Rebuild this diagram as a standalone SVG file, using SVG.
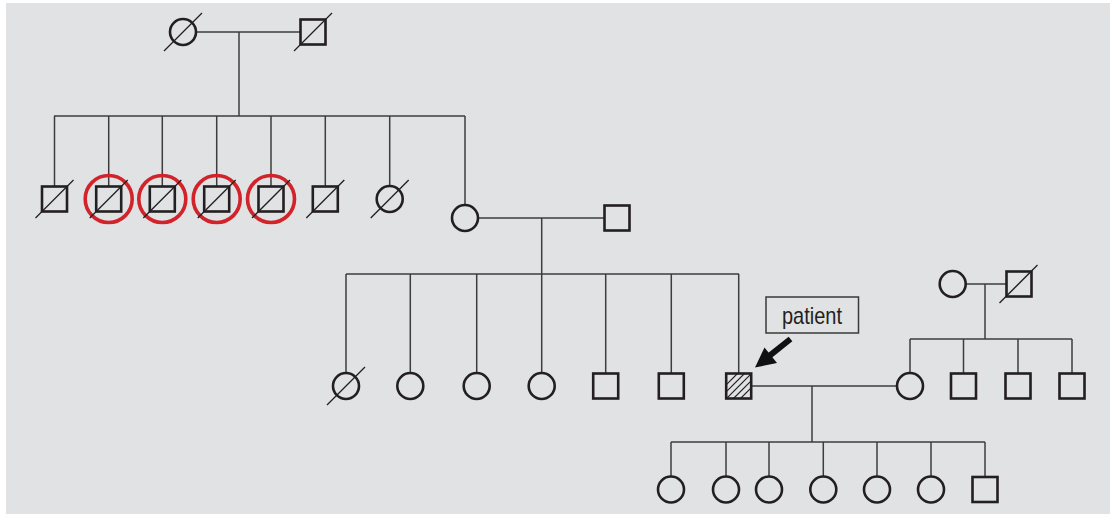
<svg xmlns="http://www.w3.org/2000/svg" width="1110" height="515" viewBox="0 0 1110 515">
<style>
.bg{fill:#e1e2e4}
.sq,.ci{fill:none;stroke:#231f20;stroke-width:2.6}
.dec{stroke:#231f20;stroke-width:1.3}
.ring{fill:none;stroke:#d2232a;stroke-width:3.6}
.ln{fill:none;stroke:#3c3c3c;stroke-width:1.5}
.hatch{stroke:#231f20;stroke-width:1.2}
.lbl{fill:none;stroke:#3a3a3a;stroke-width:1.5}
.txt{font-family:"Liberation Sans",Arial,sans-serif;font-size:24px;fill:#231f20}
</style>
<defs>
<clipPath id="pclip"><rect x="726" y="373.5" width="25.5" height="25.5"/></clipPath>
</defs>
<rect class="bg" x="6" y="3" width="1104" height="511"/>

<g id="connectors">
<!-- generation I -->
<line class="ln" x1="196" y1="32" x2="300.5" y2="32"/>
<line class="ln" x1="239" y1="32" x2="239" y2="116"/>
<line class="ln" x1="54" y1="116" x2="465" y2="116"/>
<line class="ln" x1="54.5" y1="116" x2="54.5" y2="186.5"/>
<line class="ln" x1="108.7" y1="116" x2="108.7" y2="186.5"/>
<line class="ln" x1="162.3" y1="116" x2="162.3" y2="186.5"/>
<line class="ln" x1="216.7" y1="116" x2="216.7" y2="186.5"/>
<line class="ln" x1="271" y1="116" x2="271" y2="186.5"/>
<line class="ln" x1="325.3" y1="116" x2="325.3" y2="186.5"/>
<line class="ln" x1="389.7" y1="116" x2="389.7" y2="186"/>
<line class="ln" x1="465" y1="116" x2="465" y2="205"/>
<!-- generation II couple -->
<line class="ln" x1="478" y1="218" x2="604.5" y2="218"/>
<line class="ln" x1="541.7" y1="218" x2="541.7" y2="274"/>
<line class="ln" x1="346" y1="274" x2="739" y2="274"/>
<line class="ln" x1="346" y1="274" x2="346" y2="373"/>
<line class="ln" x1="410.3" y1="274" x2="410.3" y2="373"/>
<line class="ln" x1="476.7" y1="274" x2="476.7" y2="373"/>
<line class="ln" x1="541.7" y1="274" x2="541.7" y2="373"/>
<line class="ln" x1="605.7" y1="274" x2="605.7" y2="373"/>
<line class="ln" x1="671.3" y1="274" x2="671.3" y2="373"/>
<line class="ln" x1="738.7" y1="274" x2="738.7" y2="373"/>
<!-- patient couple -->
<line class="ln" x1="751.5" y1="386" x2="897" y2="386"/>
<line class="ln" x1="812" y1="386" x2="812" y2="442"/>
<line class="ln" x1="671" y1="442" x2="985" y2="442"/>
<line class="ln" x1="671" y1="442" x2="671" y2="476.5"/>
<line class="ln" x1="726" y1="442" x2="726" y2="476.5"/>
<line class="ln" x1="769" y1="442" x2="769" y2="476.5"/>
<line class="ln" x1="823.3" y1="442" x2="823.3" y2="476.5"/>
<line class="ln" x1="877" y1="442" x2="877" y2="476.5"/>
<line class="ln" x1="931" y1="442" x2="931" y2="476.5"/>
<line class="ln" x1="985" y1="442" x2="985" y2="476.5"/>
<!-- spouse's parents -->
<line class="ln" x1="966" y1="284" x2="1006.5" y2="284"/>
<line class="ln" x1="985" y1="284" x2="985" y2="339"/>
<line class="ln" x1="910" y1="339" x2="1072" y2="339"/>
<line class="ln" x1="910" y1="339" x2="910" y2="373"/>
<line class="ln" x1="963.5" y1="339" x2="963.5" y2="373"/>
<line class="ln" x1="1018" y1="339" x2="1018" y2="373"/>
<line class="ln" x1="1072" y1="339" x2="1072" y2="373"/>
</g>

<!-- Generation I -->
<g id="I-1"><circle class="ci" cx="183" cy="32" r="13"/><line class="dec" x1="164" y1="51" x2="202" y2="13"/></g>
<g id="I-2"><rect class="sq" x="300.5" y="19.5" width="25" height="25"/><line class="dec" x1="294" y1="51" x2="332" y2="13"/></g>

<!-- Generation II -->
<g id="II-1"><rect class="sq" x="42" y="186.5" width="25" height="25"/><line class="dec" x1="35.5" y1="218" x2="73.5" y2="180"/></g>
<g id="II-2"><circle class="ring" cx="108.7" cy="199" r="23.5"/><rect class="sq" x="96.2" y="186.5" width="25" height="25"/><line class="dec" x1="89.7" y1="218" x2="127.7" y2="180"/></g>
<g id="II-3"><circle class="ring" cx="162.3" cy="199" r="23.5"/><rect class="sq" x="149.8" y="186.5" width="25" height="25"/><line class="dec" x1="143.3" y1="218" x2="181.3" y2="180"/></g>
<g id="II-4"><circle class="ring" cx="216.7" cy="199" r="23.5"/><rect class="sq" x="204.2" y="186.5" width="25" height="25"/><line class="dec" x1="197.7" y1="218" x2="235.7" y2="180"/></g>
<g id="II-5"><circle class="ring" cx="271" cy="199" r="23.5"/><rect class="sq" x="258.5" y="186.5" width="25" height="25"/><line class="dec" x1="252" y1="218" x2="290" y2="180"/></g>
<g id="II-6"><rect class="sq" x="312.8" y="186.5" width="25" height="25"/><line class="dec" x1="306.3" y1="218" x2="344.3" y2="180"/></g>
<g id="II-7"><circle class="ci" cx="389.7" cy="199" r="13"/><line class="dec" x1="370.7" y1="218" x2="408.7" y2="180"/></g>
<g id="II-8"><circle class="ci" cx="465" cy="218" r="13"/></g>
<g id="II-9"><rect class="sq" x="604.5" y="205.5" width="25" height="25"/></g>

<!-- Generation III -->
<g id="III-1"><circle class="ci" cx="346" cy="386" r="13"/><line class="dec" x1="327" y1="405" x2="365" y2="367"/></g>
<g id="III-2"><circle class="ci" cx="410.3" cy="386" r="13"/></g>
<g id="III-3"><circle class="ci" cx="476.7" cy="386" r="13"/></g>
<g id="III-4"><circle class="ci" cx="541.7" cy="386" r="13"/></g>
<g id="III-5"><rect class="sq" x="593.2" y="373.5" width="25" height="25"/></g>
<g id="III-6"><rect class="sq" x="658.8" y="373.5" width="25" height="25"/></g>
<g id="III-7-patient">
<g clip-path="url(#pclip)">
<line class="hatch" x1="712" y1="399" x2="738" y2="373"/>
<line class="hatch" x1="719" y1="399" x2="745" y2="373"/>
<line class="hatch" x1="726" y1="399" x2="752" y2="373"/>
<line class="hatch" x1="733" y1="399" x2="759" y2="373"/>
<line class="hatch" x1="740" y1="399" x2="766" y2="373"/>
</g>
<rect class="sq" x="726.2" y="373.5" width="25" height="25"/>
</g>
<g id="III-8"><circle class="ci" cx="910" cy="386" r="13"/></g>
<g id="III-9"><rect class="sq" x="951" y="373.5" width="25" height="25"/></g>
<g id="III-10"><rect class="sq" x="1005.5" y="373.5" width="25" height="25"/></g>
<g id="III-11"><rect class="sq" x="1059.5" y="373.5" width="25" height="25"/></g>

<!-- Spouse's parents -->
<g id="II-10"><circle class="ci" cx="952.7" cy="284" r="13"/></g>
<g id="II-11"><rect class="sq" x="1006.5" y="271.5" width="25" height="25"/><line class="dec" x1="999.5" y1="303" x2="1037.5" y2="265"/></g>

<!-- Generation IV -->
<g id="IV-1"><circle class="ci" cx="671" cy="489.5" r="13"/></g>
<g id="IV-2"><circle class="ci" cx="726" cy="489.5" r="13"/></g>
<g id="IV-3"><circle class="ci" cx="769" cy="489.5" r="13"/></g>
<g id="IV-4"><circle class="ci" cx="823.3" cy="489.5" r="13"/></g>
<g id="IV-5"><circle class="ci" cx="877" cy="489.5" r="13"/></g>
<g id="IV-6"><circle class="ci" cx="931" cy="489.5" r="13"/></g>
<g id="IV-7"><rect class="sq" x="972.5" y="477" width="25" height="25"/></g>

<!-- patient label -->
<g id="patient-label">
<rect class="lbl" x="766" y="297" width="92.5" height="36"/>
<text class="txt" x="812" y="323.5" text-anchor="middle" textLength="60" lengthAdjust="spacingAndGlyphs">patient</text>
<line x1="790.5" y1="339" x2="769" y2="356.2" stroke="#111" stroke-width="6"/>
<polygon points="755,367.5 764.5,347.5 777,363" fill="#111"/>
</g>
</svg>
